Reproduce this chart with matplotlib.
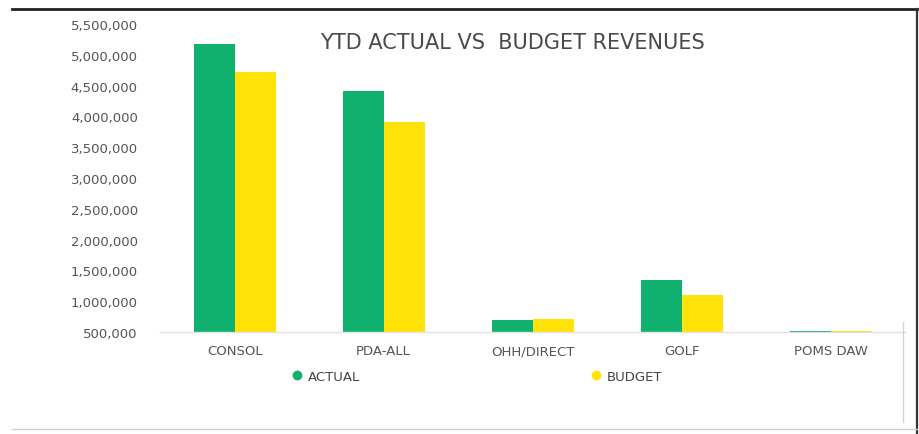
import matplotlib
matplotlib.use("Agg")
import matplotlib.pyplot as plt
import numpy as np
from matplotlib.lines import Line2D
from matplotlib.ticker import FuncFormatter

categories = ["CONSOL", "PDA-ALL", "OHH/DIRECT", "GOLF", "POMS DAW"]
actual = [5180000, 4410000, 690000, 1340000, 508000]
budget = [4720000, 3910000, 705000, 1100000, 512000]
y_ticks = [500000, 1000000, 1500000, 2000000, 2500000, 3000000,
           3500000, 4000000, 4500000, 5000000, 5500000]

GREEN = "#10B06F"
YELLOW = "#FFE208"
TEXT = "#555555"

fig = plt.figure(figsize=(9.2, 4.35), dpi=100)
fig.patch.set_facecolor("white")
ax = fig.add_axes([0.174, 0.2345, 0.81, 0.708])

x = np.arange(len(categories))
w = 0.275
ax.bar(x - w / 2, actual, width=w, color=GREEN, label="ACTUAL")
ax.bar(x + w / 2, budget, width=w, color=YELLOW, label="BUDGET")

ax.set_xlim(-0.5, len(categories) - 0.5)
ax.set_ylim(500000, 5500000)
ax.set_yticks(y_ticks)
ax.yaxis.set_major_formatter(FuncFormatter(lambda v, p: f"{int(v):,}"))
ax.set_xticks(x)
ax.set_xticklabels(categories)
ax.tick_params(axis="y", length=0, pad=16, labelsize=9.5, labelcolor=TEXT)
ax.tick_params(axis="x", length=0, pad=9, labelsize=9.5, labelcolor=TEXT)

for s in ["top", "right", "left"]:
    ax.spines[s].set_visible(False)
ax.spines["bottom"].set_color("#e2e2e2")
ax.spines["bottom"].set_linewidth(1.0)

fig.text(0.5565, 0.902, "YTD ACTUAL VS  BUDGET REVENUES", ha="center",
         va="center", fontsize=15, color="#4a4a4a")

handles = [
    Line2D([], [], linestyle="none", marker="o", markersize=6,
           color=GREEN, label="ACTUAL"),
    Line2D([], [], linestyle="none", marker="o", markersize=6,
           color=YELLOW, label="BUDGET"),
]
fig.legend(handles=handles, ncol=2, frameon=False, fontsize=9.5,
           labelcolor="#444444", handletextpad=0.3, handlelength=1.0,
           columnspacing=17.4, loc="center left",
           bbox_to_anchor=(0.303, 0.133))

# outer frame
fig.add_artist(Line2D([0.013, 1.0], [0.977, 0.977], color="#222222",
                      linewidth=2.0, transform=fig.transFigure))
fig.add_artist(Line2D([0.997, 0.997], [0.0, 0.977], color="#333333",
                      linewidth=1.6, transform=fig.transFigure))
fig.add_artist(Line2D([0.981, 0.981], [0.028, 0.257], color="#d5d5d5",
                      linewidth=1.0, transform=fig.transFigure))
fig.add_artist(Line2D([0.013, 0.997], [0.012, 0.012], color="#d0d0d0",
                      linewidth=1.0, transform=fig.transFigure))

fig.savefig("out.png", dpi=100, facecolor="white")
